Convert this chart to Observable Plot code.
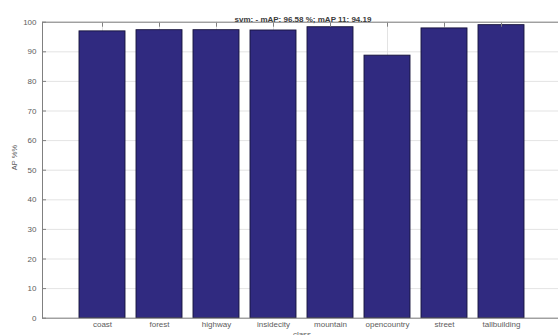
<!DOCTYPE html>
<html>
<head>
<meta charset="utf-8">
<script src="https://cdn.jsdelivr.net/npm/d3@7"></script>
<script src="https://cdn.jsdelivr.net/npm/@observablehq/plot@0.6"></script>
<style>
  html, body { margin: 0; padding: 0; background: #fff; }
  svg { display: block; }
</style>
</head>
<body>
<div id="chart"></div>
<script>
// Per-class average precision of the SVM classifier
const classes = ["coast", "forest", "highway", "insidecity", "mountain", "opencountry", "street", "tallbuilding"];
const apValues = [96.9, 97.3, 97.3, 97.2, 98.3, 88.7, 97.9, 99.0];
const yTicks = [0, 10, 20, 30, 40, 50, 60, 70, 80, 90, 100];
const titleText = "svm: - mAP: 96.58 %; mAP 11: 94.19";
const yLabel = "AP %%";
const xLabel = "class";

const data = classes.map((c, i) => ({cls: c, ap: apValues[i]}));

const textColor = "#5c5c5c";
const axisColor = "#808080";
const font = "'Liberation Sans', Arial, sans-serif";
const blank = () => "";

const chart = Plot.plot({
  width: 558,
  height: 335,
  marginLeft: 42,
  marginRight: -3,
  marginTop: 21.7,
  marginBottom: 17.3,
  style: {fontFamily: font, fontSize: "8px", color: textColor, background: "#fff"},
  x: {type: "band", domain: classes, range: [70.45, 532.15], paddingInner: 0.2, paddingOuter: 0.1},
  y: {domain: [0, 100]},
  marks: [
    Plot.gridY(yTicks, {stroke: "#dcdcdc", strokeOpacity: 1, strokeWidth: 0.8}),
    Plot.gridX(classes, {stroke: "#dcdcdc", strokeOpacity: 1, strokeWidth: 0.8}),
    Plot.barY(data, {x: "cls", y: "ap", fill: "#302a80", stroke: "#15123a", strokeWidth: 0.9}),
    Plot.frame({stroke: axisColor, strokeWidth: 1}),
    // inward tick marks on left, right and top edges
    Plot.axisY(yTicks, {anchor: "left", tickSize: -4, tickFormat: blank, label: null, stroke: axisColor}),
    Plot.axisY(yTicks, {anchor: "right", tickSize: -4, tickFormat: blank, label: null, stroke: axisColor}),
    Plot.axisX(classes, {anchor: "top", tickSize: -4, tickFormat: blank, label: null, stroke: axisColor}),
    // tick labels
    Plot.axisY(yTicks, {anchor: "left", tickSize: 0, tickPadding: 6, label: null, fill: textColor, fontSize: 8}),
    Plot.axisX(classes, {anchor: "bottom", tickSize: 0, tickPadding: 3, label: null, fill: textColor, fontSize: 8}),
    Plot.text([titleText], {text: d => d, frameAnchor: "top", dy: -6, dx: 1, fontWeight: "bold", fontSize: 8, fill: "#3a3a3a"}),
    Plot.text([yLabel], {text: d => d, frameAnchor: "left", rotate: -90, dx: -28, fontSize: 7.5, fill: textColor}),
    Plot.text([xLabel], {text: d => d, frameAnchor: "bottom", dy: 19, fontSize: 8, fill: textColor})
  ]
});

document.getElementById("chart").append(chart);
</script>
</body>
</html>
